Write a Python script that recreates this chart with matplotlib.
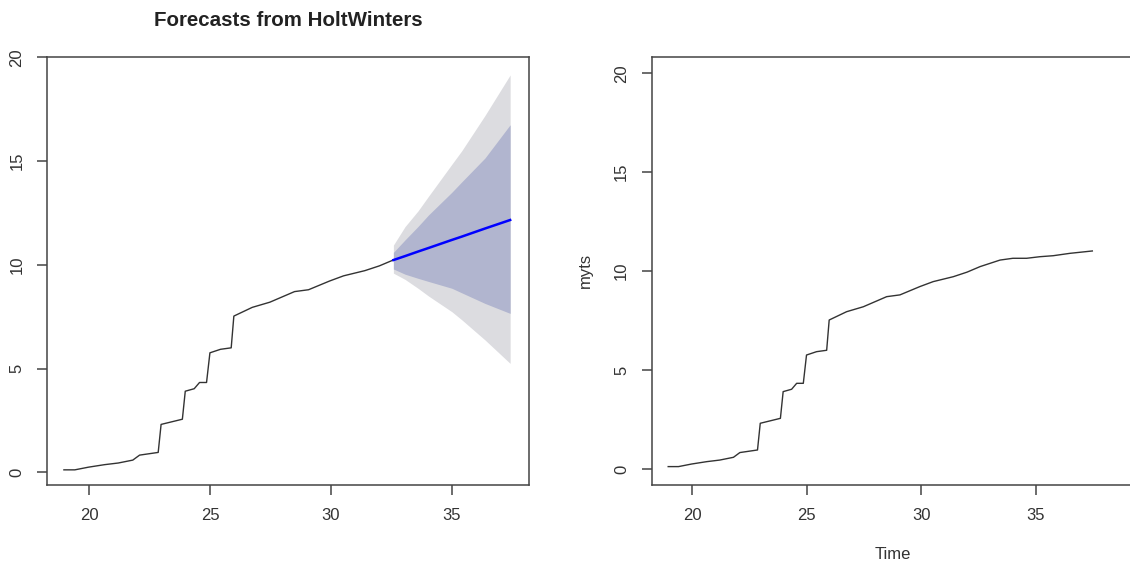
import numpy as np
import matplotlib.pyplot as plt

plt.rcParams['font.family'] = ['Liberation Sans', 'DejaVu Sans']

obs_t = [18.95, 19.4, 19.97, 20.63, 21.2, 21.8, 22.08, 22.85, 22.97, 23.85,
         23.97, 24.34, 24.56, 24.85, 24.99, 25.43, 25.87, 25.98, 26.74, 27.47,
         28.49, 29.07, 29.94, 30.52, 31.4, 32.0, 32.57, 33.44, 34.0, 34.6,
         35.18, 35.76, 36.49, 37.47]
obs_v = [0.12, 0.12, 0.25, 0.37, 0.45, 0.59, 0.83, 0.96, 2.31, 2.56,
         3.91, 4.03, 4.33, 4.33, 5.76, 5.93, 6.0, 7.53, 7.95, 8.2,
         8.71, 8.8, 9.22, 9.47, 9.72, 9.95, 10.23, 10.56, 10.65, 10.65,
         10.73, 10.78, 10.9, 11.02]
fit_end = 32.57

# HoltWinters forecast and intervals
fc_t = [32.58, 33.06, 33.6, 34.03, 35.0, 35.41, 36.37, 37.41]
fc_mean = [10.23, 10.42, 10.64, 10.81, 11.2, 11.36, 11.75, 12.16]
fc_lo80 = [9.8, 9.55, 9.35, 9.2, 8.87, 8.65, 8.14, 7.66]
fc_hi80 = [10.6, 11.2, 11.85, 12.4, 13.5, 14.0, 15.15, 16.75]
fc_lo95 = [9.6, 9.3, 8.87, 8.5, 7.74, 7.35, 6.38, 5.25]
fc_hi95 = [10.95, 11.84, 12.6, 13.3, 14.85, 15.5, 17.2, 19.15]

y_ticks = [0, 5, 10, 15, 20]
x_ticks = [20, 25, 30, 35]


def r_style(ax):
    for s in ax.spines.values():
        s.set_color('#444444')
        s.set_linewidth(1.1)
    ax.set_xticks(x_ticks)
    ax.set_yticks(y_ticks)
    ax.tick_params(axis='x', length=7.2, width=1.1, color='#444444',
                   labelsize=12, pad=9.5, labelcolor='#333333')
    ax.tick_params(axis='y', length=7.2, width=1.1, color='#444444',
                   labelsize=12, pad=9, labelcolor='#333333')
    for lab in ax.get_yticklabels():
        lab.set_rotation(90)
        lab.set_va('center')


fig = plt.figure(figsize=(11.3, 5.66), dpi=100)

# left: forecast plot
ax1 = fig.add_axes([47 / 1130, 81 / 566, 482 / 1130, 428.3 / 566])
t = np.array(obs_t)
v = np.array(obs_v)
m = t <= fit_end
ax1.fill_between(fc_t, fc_lo95, fc_hi95, color='#dcdce0', lw=0)
ax1.fill_between(fc_t, fc_lo80, fc_hi80, color='#b1b5cf', lw=0)
ax1.plot(t[m], v[m], color='#333333', lw=1.0)
ax1.plot(fc_t, fc_mean, color='#0000ff', lw=1.8)
ax1.set_xlim(18.25, 38.19)
ax1.set_ylim(-0.61, 20.03)
r_style(ax1)
ax1.set_title('Forecasts from HoltWinters', fontsize=14.8, fontweight='bold',
              color='#222222', pad=22)

# right: observed series
ax2 = fig.add_axes([651.7 / 1130, 81 / 566, 482.3 / 1130, 428.3 / 566])
ax2.plot(obs_t, obs_v, color='#333333', lw=1.0)
ax2.set_xlim(18.23, 39.29)
ax2.set_ylim(-0.81, 20.84)
r_style(ax2)
ax2.set_ylabel('myts', fontsize=12, color='#333333', labelpad=15)
ax2.set_xlabel('Time', fontsize=12, color='#333333', labelpad=17)

fig.savefig('out.png', dpi=100)
